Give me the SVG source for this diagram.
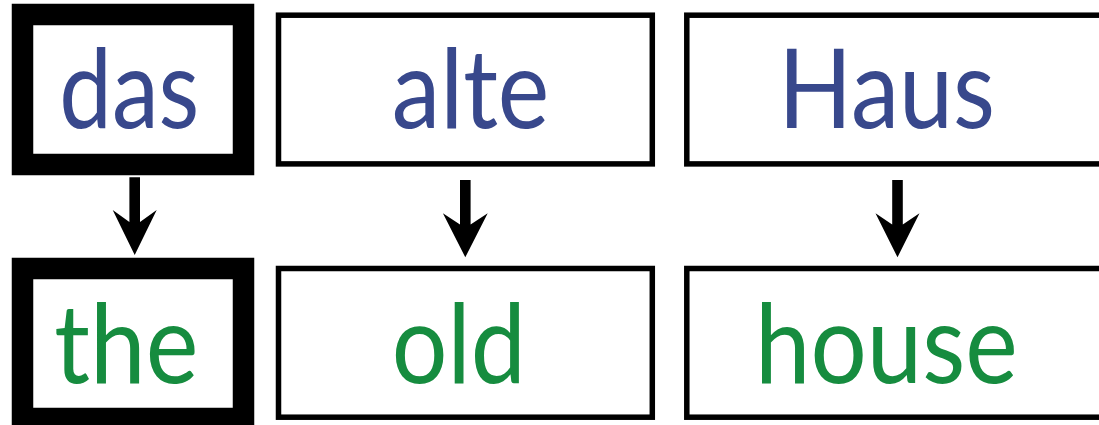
<svg xmlns="http://www.w3.org/2000/svg" width="1099" height="425" viewBox="0 0 1099 425">
<style>
.box{fill:#fff;stroke:#000;stroke-width:5.5}
.sel{fill:#fff;stroke:#000;stroke-width:21.5}
.de{font-family:Lato,"Open Sans",sans-serif;font-size:110px;fill:#38488c;text-anchor:middle}
.en{font-family:Lato,"Open Sans",sans-serif;font-size:110px;fill:#168c3f;text-anchor:middle}
.arr{fill:#000}
</style>
<rect width="1099" height="425" fill="#fff"/>
<g id="n-das"><rect class="sel" x="22.5" y="14.5" width="221" height="150"/><text class="de" x="129.3" y="127.7" textLength="140" lengthAdjust="spacingAndGlyphs">das</text></g>
<g id="n-alte"><rect class="box" x="278.5" y="15.2" width="373.8" height="148.7"/><text class="de" x="470.5" y="127.7" textLength="157.6" lengthAdjust="spacingAndGlyphs">alte</text></g>
<g id="n-Haus"><rect class="box" x="686.8" y="15.2" width="430" height="148.7"/><text class="de" x="886.7" y="127.7" textLength="216.7" lengthAdjust="spacingAndGlyphs">Haus</text></g>
<g id="n-the"><rect class="sel" x="22.5" y="268.5" width="221" height="150"/><text class="en" x="126.3" y="383.3" textLength="144" lengthAdjust="spacingAndGlyphs">the</text></g>
<g id="n-old"><rect class="box" x="278.5" y="268.5" width="373.8" height="148.7"/><text class="en" x="458.7" y="383.3" textLength="134" lengthAdjust="spacingAndGlyphs">old</text></g>
<g id="n-house"><rect class="box" x="686.8" y="268.5" width="430" height="148.7"/><text class="en" x="886.3" y="383.3" textLength="262.7" lengthAdjust="spacingAndGlyphs">house</text></g>
<g id="connectors">
<path class="arr" d="M129.4,177.3 H140 V222 L156.7,210 L134.7,255 L112.7,210 L129.4,222 Z"/>
<path class="arr" d="M460,180 H470.6 V224.5 L487.7,213.3 L465.3,257.3 L442.9,213.3 L460,224.5 Z"/>
<path class="arr" d="M892.2,180 H902.8 V224.5 L919.5,213.3 L897.5,257.3 L875.5,213.3 L892.2,224.5 Z"/>
</g>
</svg>
